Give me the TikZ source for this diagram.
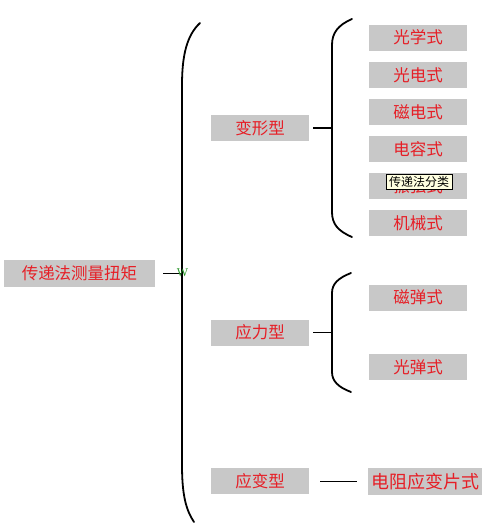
\documentclass[tikz,border=0pt]{standalone}
\usepackage{fontspec}
\setmainfont{Noto Sans CJK SC}
\newfontfamily\latinfont{Liberation Serif}
\usetikzlibrary{positioning}
\definecolor{boxgray}{RGB}{200,200,200}
\definecolor{txtred}{RGB}{230,30,38}
\definecolor{tipyellow}{RGB}{255,255,225}
\definecolor{wgreen}{RGB}{40,150,40}
\tikzset{
  kind/.style={fill=boxgray, text=txtred, minimum width=98pt, minimum height=26pt,
    inner sep=0pt, font=\fontsize{16.5}{16.5}\selectfont},
  brace/.style={line width=1.8pt, line cap=round},
  link/.style={line width=1.6pt},
}
\begin{document}
\begin{tikzpicture}[x=1pt, y=-1pt]
    \useasboundingbox (0,0) rectangle (501,523);

    % Root
    \node[kind, minimum width=151pt, minimum height=27pt] (root) at (79.5,273.5) {传递法测量扭矩};

    % Middle level
    \node[kind] (bx) at (260,128) {变形型};
    \node[kind] (yl) at (260,332.5) {应力型};
    \node[kind] (yb) at (260,481) {应变型};

    % Right level, 变形型
    \node[kind] (gx) at (418,37.5) {光学式};
    \node[kind] (gd) at (418,75) {光电式};
    \node[kind] (cd) at (418,112) {磁电式};
    \node[kind] (dr) at (418,149) {电容式};
    \node[kind] (zx) at (418,186) {振弦式};
    \node[kind] (jx) at (418,223) {机械式};

    % Right level, 应力型 and 应变型
    \node[kind] (ct) at (418,297.5) {磁弹式};
    \node[kind] (gt) at (418,367) {光弹式};
    \node[kind, minimum width=114pt, minimum height=27pt, font=\fontsize{18}{18}\selectfont] (dz) at (425,481.5) {电阻应变片式};

    % Tooltip over 振弦式
    \node[draw, fill=tipyellow, line width=0.8pt, minimum width=66pt, minimum height=15pt,
      inner sep=0pt, font=\fontsize{12}{12}\selectfont] (tip) at (419,181.5) {传递法分类};

    % Braces
    \draw[brace] (200,23) .. controls (187,35) and (182,55) .. (182,85)
        -- (182,465) .. controls (182,495) and (186,510) .. (194,522);
    \draw[brace] (352,19) .. controls (338,25) and (332,33) .. (332,45)
        -- (332,212) .. controls (332,224) and (338,231) .. (352,237);
    \draw[brace] (351,273) .. controls (338,278) and (332,284) .. (332,293)
        -- (332,372) .. controls (332,381) and (338,387) .. (351,392);

    % Joints on the braces
    \coordinate (j0) at (182,273.5);
    \coordinate (j1) at (332,128);
    \coordinate (j2) at (332,332.5);
    \coordinate (j3) at (357,481);

    % Edges
    \draw[link, shorten <=8pt] (root.east) -- (j0);
    \draw[link, shorten <=4pt] (bx.east) -- (j1);
    \draw[link, shorten <=4pt] (yl.east) -- (j2);
    \draw[line width=0.9pt, shorten <=11pt] (yb.east) -- (j3);

    % Stray mark
    \node[text=wgreen, inner sep=0pt, font=\latinfont\fontsize{12}{12}\selectfont] (w) at (182.5,272.5) {W};
\end{tikzpicture}
\end{document}
